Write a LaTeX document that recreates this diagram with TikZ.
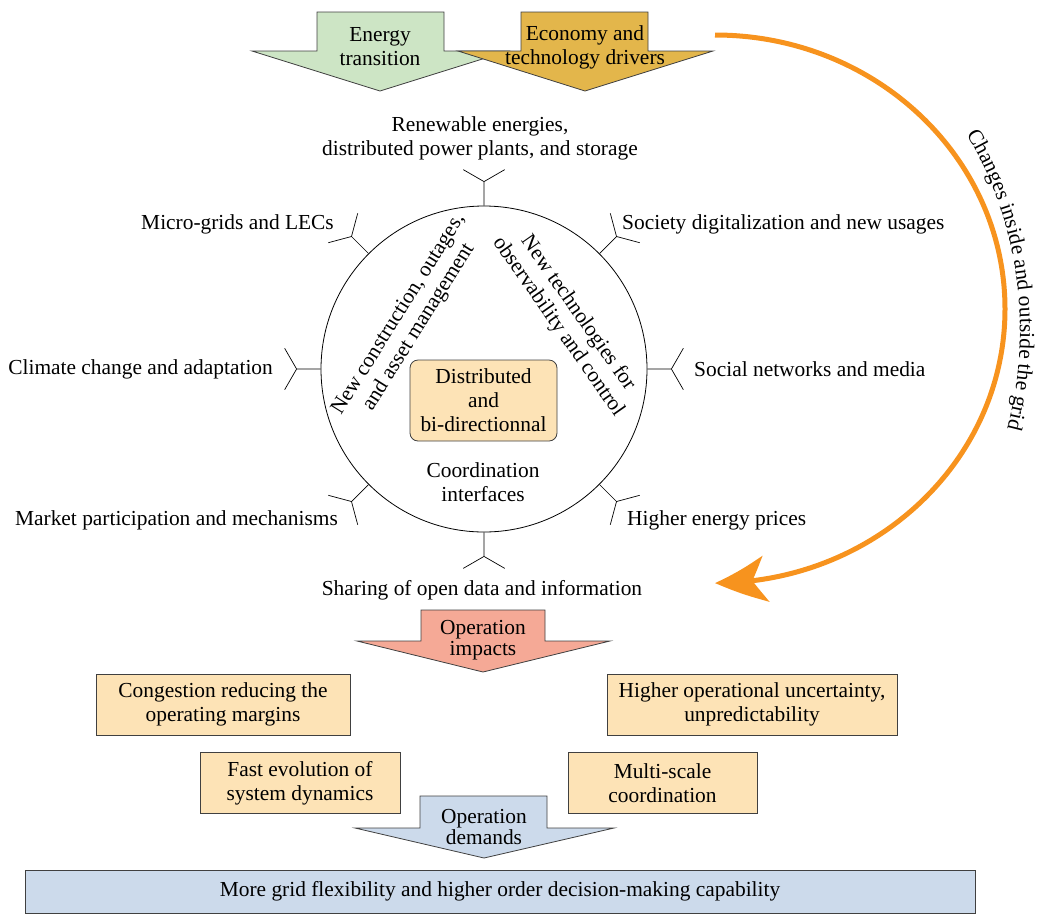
\documentclass[tikz,border=0pt]{standalone}
\usepackage{fontspec}
\setmainfont{Liberation Serif}
\usetikzlibrary{arrows.meta,bending,decorations.text}
\definecolor{energy}{HTML}{CDE5C5}
\definecolor{economy}{HTML}{E3B64B}
\definecolor{impact}{HTML}{F5A996}
\definecolor{demand}{HTML}{CCDAEB}
\definecolor{peach}{HTML}{FDE3B6}
\definecolor{cycleorange}{HTML}{F7931E}

\begin{document}
\fontsize{21.4}{24}\selectfont
\begin{tikzpicture}[x=1pt,y=1pt,
  blockarrow/.style={draw=black!75,line width=0.8pt,fill=#1},
  lbl/.style={align=center,inner sep=1pt},
  opbox/.style={draw=black!75,line width=0.8pt,fill=peach,align=center,
    minimum width=#1,minimum height=61pt,inner sep=2pt},
  antenna/.style={line width=0.7pt},
]
  \useasboundingbox (0,0) rectangle (1037,-914);

  % drivers on top
  \draw[blockarrow=energy] (317,-12) -- (444,-12) -- (444,-51) -- (508,-51)
    -- (380,-91) -- (252,-51) -- (317,-51) -- cycle;
  \node[lbl] (drv1) at (380,-47) {Energy\\transition};
  \draw[blockarrow=economy] (521,-12) -- (648,-12) -- (648,-51) -- (713,-51)
    -- (585,-91) -- (458,-51) -- (521,-51) -- cycle;
  \node[lbl] (drv2) at (585,-47) {Economy and\\technology drivers};

  % the grid and its surroundings
  \node[draw,circle,line width=0.8pt,minimum size=326pt,inner sep=0pt] (hub) at (484,-369) {};
  \foreach \a in {0,45,...,315}
    \draw[antenna] (hub.\a) -- ++(\a:24) coordinate (fork) -- ++(\a+60:24)
      (fork) -- ++(\a-60:24);
  \node[lbl] (ren) at (480,-138) {Renewable energies,\\distributed power plants, and storage};
  \node[lbl,anchor=east] (micro) at (335,-224) {Micro-grids and LECs};
  \node[lbl,anchor=west] (soc) at (621,-224) {Society digitalization and new usages};
  \node[lbl,anchor=east] (clim) at (274,-369) {Climate change and adaptation};
  \node[lbl,anchor=west] (media) at (693,-369) {Social networks and media};
  \node[lbl,anchor=east] (market) at (339,-520) {Market participation and mechanisms};
  \node[lbl,anchor=west] (price) at (626,-520) {Higher energy prices};
  \node[lbl] (data) at (482,-590) {Sharing of open data and information};

  \node[lbl,rotate=58] (build) at (409,-321) {New construction, outages,\\and asset management};
  \node[lbl,rotate=-55] (tech) at (568,-320) {New technologies for\\observability and control};
  \node[draw=black!75,line width=0.8pt,fill=peach,rounded corners=8pt,align=center,
    minimum width=147pt,minimum height=81pt,inner sep=2pt] (core) at (483.5,-400.5)
    {Distributed\\and\\bi-directionnal};
  \node[lbl] (coord) at (483,-482) {Coordination\\interfaces};

  % changes loop
  \coordinate (loopstart) at (715,-35);
  \coordinate (loopmid) at (715,-330);
  \draw[draw=cycleorange,line width=5pt,
    -{Stealth[length=52pt,width=46pt,inset=14pt,bend]}]
    (loopstart) arc[start angle=90,end angle=-90,x radius=290,y radius=274];
  \path[decorate,decoration={text along path,text align=center,
    text={Changes inside and outside the grid}}]
    (loopmid) ++(38:305 and 345) arc[start angle=38,end angle=-20,x radius=305,y radius=345];

  % impacts
  \draw[blockarrow=impact] (421,-610) -- (545,-610) -- (545,-641) -- (610,-641)
    -- (483,-672) -- (357,-641) -- (421,-641) -- cycle;
  \node[lbl,font=\fontsize{21.4}{21}\selectfont] (imp) at (483,-640) {Operation\\impacts};
  \node[opbox=254pt] (b1) at (223,-704.5) {Congestion reducing the\\operating margins};
  \node[opbox=290pt] (b2) at (752,-704.5) {Higher operational uncertainty,\\unpredictability};
  \node[opbox=200pt] (b3) at (300,-783) {Fast evolution of\\system dynamics};
  \node[opbox=189pt] (b4) at (662.5,-783) {Multi-scale\\coordination};

  % demands
  \draw[blockarrow=demand] (420,-796) -- (547,-796) -- (547,-828) -- (614,-828)
    -- (484,-858) -- (355,-828) -- (420,-828) -- cycle;
  \node[lbl,font=\fontsize{21.4}{21}\selectfont] (dem) at (484,-827) {Operation\\demands};
  \node[draw=black!75,line width=0.8pt,fill=demand,minimum width=950pt,
    minimum height=43pt] (goal) at (500,-891.5)
    {More grid flexibility and higher order decision-making capability};
\end{tikzpicture}
\end{document}
